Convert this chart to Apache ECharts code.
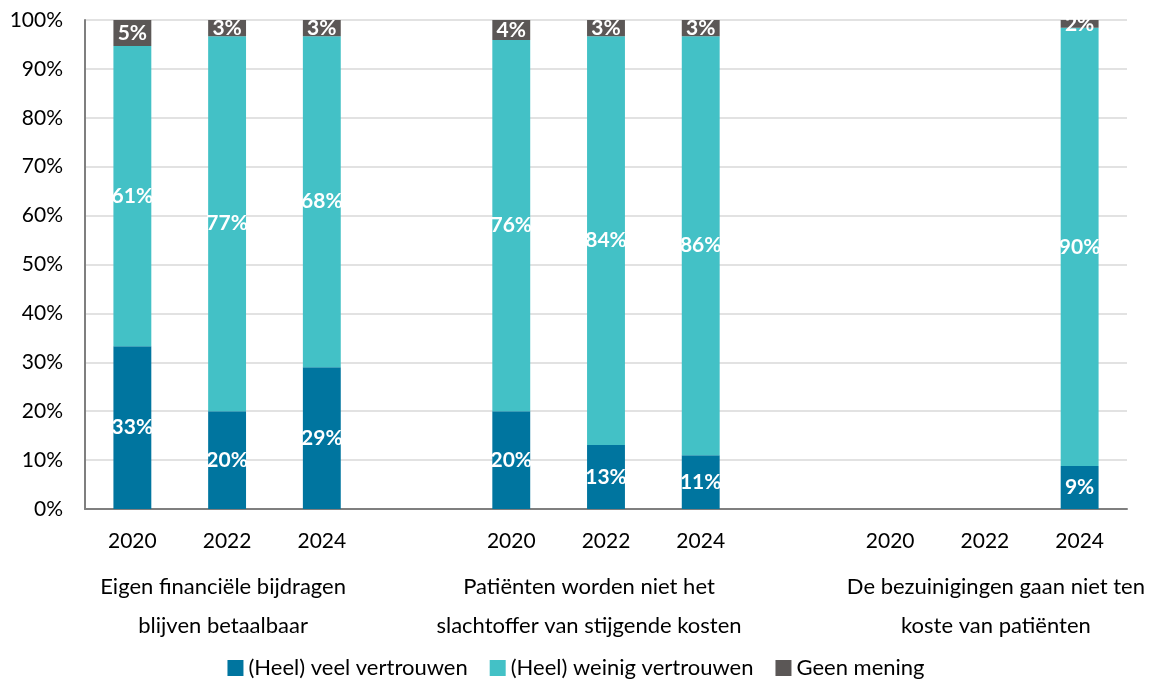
<!DOCTYPE html>
<html><head><meta charset="utf-8">
<script src="https://cdn.jsdelivr.net/npm/echarts@6/dist/echarts.min.js"></script>
<style>html,body{margin:0;padding:0;background:#fff}#c{width:1152px;height:681px}</style>
</head><body><div id="c"></div>
<script>
const years = ['2020','2022','2024','','2020','2022','2024','','2020','2022','2024'];
const groups = ['', 'Eigen financiële bijdragen\nblijven betaalbaar', '', '', '', 'Patiënten worden niet het\nslachtoffer van stijgende kosten', '', '', '', 'De bezuinigingen gaan niet ten\nkoste van patiënten', ''];
const seriesNames = ['(Heel) veel vertrouwen', '(Heel) weinig vertrouwen', 'Geen mening'];
const veel   = [33.3, 20.0, 29.0, null, 20.0, 13.1, 11.0, null, null, null, 8.8];
const weinig = [61.4, 76.7, 67.7, null, 75.9, 83.6, 85.7, null, null, null, 89.6];
const geen   = [5.3, 3.3, 3.3, null, 4.1, 3.3, 3.3, null, null, null, 1.6];
const colors = ['#00759f', '#43c1c6', '#5b5756'];
const FONT = 'Lato';

const chart = echarts.init(document.getElementById('c'));
const mk = (name, data, i) => ({
  name, type: 'bar', stack: 's', data, barWidth: '40%',
  itemStyle: { color: colors[i] },
  label: { show: true, position: 'inside', color: '#fff', fontWeight: 'bold', fontSize: 21, fontFamily: FONT,
    formatter: p => p.value == null ? '' : Math.round(p.value) + '%' }
});
const wrap = (key, v) => '{' + key + '|' + v.split('\n').join('}\n{' + key + '|') + '}';
chart.setOption({
  animation: false,
  textStyle: { fontFamily: FONT },
  grid: { left: 85, right: 25, top: 20, bottom: 172 },
  legend: { bottom: -3, left: 'center', itemWidth: 16, itemHeight: 16, itemGap: 22,
    icon: 'rect', textStyle: { fontSize: 22, color: '#000', fontFamily: FONT },
    data: seriesNames },
  xAxis: [
    { type: 'category', data: years, axisTick: { show: false },
      axisLine: { lineStyle: { color: '#7f7f7f', width: 2 } },
      axisLabel: { interval: 0, fontSize: 21, color: '#000', margin: 22, fontFamily: FONT } },
    { type: 'category', data: groups, position: 'bottom', offset: 0, axisTick: { show: false },
      axisLine: { show: false },
      axisLabel: { interval: 0, fontSize: 22, color: '#000', margin: 58, lineHeight: 39, fontFamily: FONT,
        formatter: (v, i) => v ? wrap(i === 5 ? 'g2' : i === 9 ? 'g3' : 'g1', v) : '',
        rich: {
          g1: { fontSize: 22, lineHeight: 39, fontFamily: FONT, padding: [0, 8, 0, 0] },
          g2: { fontSize: 22, lineHeight: 39, fontFamily: FONT, padding: [0, 34, 0, 0] },
          g3: { fontSize: 22, lineHeight: 39, fontFamily: FONT, padding: [0, 0, 0, 22] }
        } } }
  ],
  yAxis: { type: 'value', min: 0, max: 100, interval: 10,
    axisLine: { show: true, lineStyle: { color: '#7f7f7f', width: 2 } },
    axisTick: { show: false },
    splitLine: { lineStyle: { color: '#d9d9d9', width: 1.5 } },
    axisLabel: { formatter: '{value}%', fontSize: 21, color: '#000', margin: 22, fontFamily: FONT } },
  series: [mk(seriesNames[0], veel, 0), mk(seriesNames[1], weinig, 1), mk(seriesNames[2], geen, 2)]
});
</script></body></html>
